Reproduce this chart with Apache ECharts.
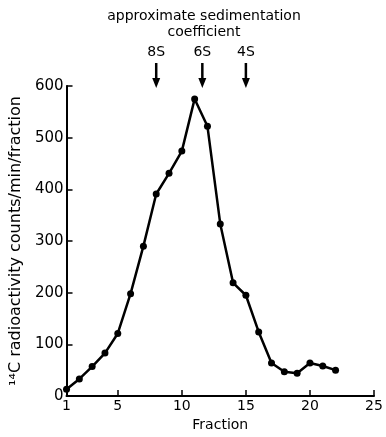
<!DOCTYPE html>
<html><head><meta charset="utf-8">
<script src="https://cdn.jsdelivr.net/npm/echarts@6/dist/echarts.min.js"></script>
<style>html,body{margin:0;padding:0;background:#fff}#c{width:386px;height:437px}</style>
</head><body><div id="c"></div>
<script>
const fractions = [1,2,3,4,5,6,7,8,9,10,11,12,13,14,15,16,17,18,19,20,21,22];
const counts = [13,33,57,83,121,198,290,391,431,474,575,522,333,219,195,124,64,47,44,64,58,50];
const xTicks = [1,5,10,15,20,25];
const yTicks = [0,100,200,300,400,500,600];
const sedPositions = [8, 11.6, 15];
const sedLabels = ['8S','6S','4S'];
const titleLines = ['approximate sedimentation', 'coefficient'];
const xName = 'Fraction';
const yName = '¹⁴C radioactivity counts/min/fraction';

const FONT = 'DejaVu Sans';
const chart = echarts.init(document.getElementById('c'), null, {renderer:'canvas'});
chart.setOption({
  animation:false,
  backgroundColor:'#fff',
  title:{text:titleLines.join('\n'), left:199, top:3, textAlign:'center',
    textStyle:{fontFamily:FONT, fontSize:14, fontWeight:'normal', color:'#000', lineHeight:16}},
  grid:{left:66, right:12, top:86, bottom:41, containLabel:false},
  xAxis:{type:'value', min:1, max:25,
    name:xName, nameLocation:'middle', nameGap:20,
    nameTextStyle:{fontFamily:FONT, fontSize:14, color:'#000'},
    axisLine:{lineStyle:{color:'#000', width:2}},
    axisTick:{inside:true, length:6, lineStyle:{color:'#000', width:1.5}, customValues:xTicks},
    axisLabel:{fontFamily:FONT, fontSize:14, color:'#000', margin:3, customValues:xTicks},
    splitLine:{show:false}},
  yAxis:{type:'value', min:0, max:600, interval:100,
    name:yName, nameLocation:'middle', nameGap:40, nameRotate:90,
    nameTextStyle:{fontFamily:FONT, fontSize:16, color:'#000'},
    axisLine:{show:true, lineStyle:{color:'#000', width:2}},
    axisTick:{show:true, inside:true, length:6, lineStyle:{color:'#000', width:1.5}},
    axisLabel:{fontFamily:FONT, fontSize:15, color:'#000', margin:3},
    splitLine:{show:false}},
  series:[
    {type:'line', data:fractions.map((f,i)=>[f,counts[i]]),
     symbol:'circle', symbolSize:7, showAllSymbol:true,
     lineStyle:{color:'#000', width:2.5}, itemStyle:{color:'#000'}},
    {type:'custom', data:sedPositions.map((p,i)=>[p,i]), clip:false, silent:true,
     renderItem:function(params, api){
       const x = api.coord([api.value(0), 600])[0];
       const lbl = sedLabels[api.value(1)];
       return {type:'group', children:[
         {type:'text', style:{text:lbl, x:x, y:52, align:'center', verticalAlign:'middle',
            font:'14px "'+FONT+'"', fill:'#000'}},
         {type:'line', shape:{x1:x, y1:63, x2:x, y2:80}, style:{stroke:'#000', lineWidth:2.5}},
         {type:'polygon', shape:{points:[[x-4,78],[x+4,78],[x,88]]}, style:{fill:'#000'}}
       ]};
     }}
  ]
});
</script></body></html>
